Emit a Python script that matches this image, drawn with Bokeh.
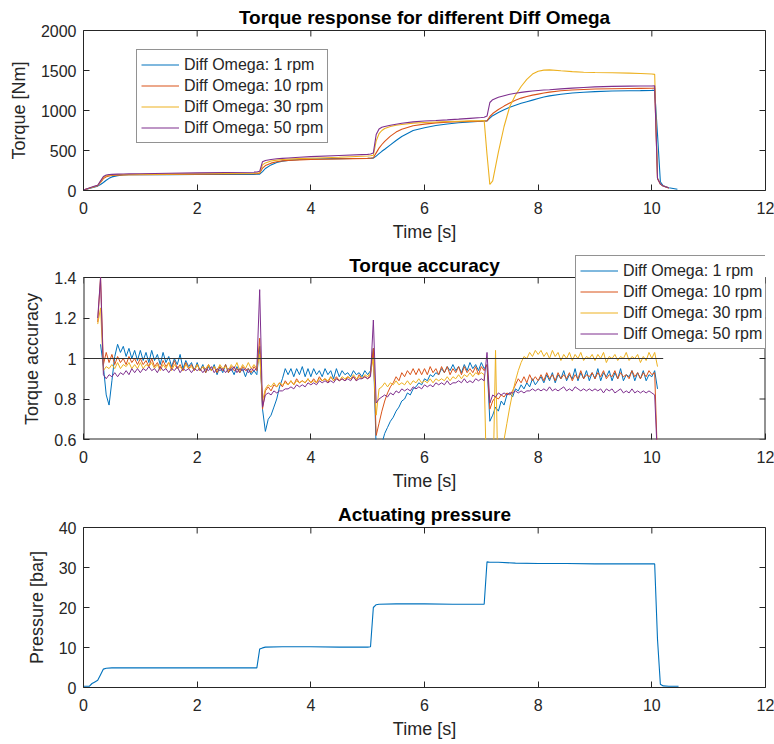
import numpy as np
from bokeh.plotting import figure
from bokeh.layouts import column
from bokeh.models import Range1d, FixedTicker, NumeralTickFormatter
from bokeh.core.properties import value
from bokeh.embed import file_html
from bokeh.resources import INLINE

nan = float("nan")

series_labels = ["Diff Omega: 1 rpm", "Diff Omega: 10 rpm", "Diff Omega: 30 rpm", "Diff Omega: 50 rpm"]
series_colors = ["#0072BD", "#D95319", "#EDB120", "#7E2F8E"]

x_ticks = [0, 2, 4, 6, 8, 10, 12]
torque_ticks = [0, 500, 1000, 1500, 2000]
accuracy_ticks = [0.6, 0.8, 1.0, 1.2, 1.4]
pressure_ticks = [0, 10, 20, 30, 40]

# ---------------- Torque response ----------------
torque_time = [0.0, 0.1, 0.2, 0.25, 0.3, 0.35, 0.4, 0.45, 0.5, 0.6, 0.7, 0.8,
               1.0, 1.5, 2.0, 2.5, 3.0, 3.05,
               3.1, 3.15, 3.2, 3.3, 3.4, 3.5, 3.6, 3.8, 4.0, 4.5, 5.0, 5.05,
               5.1, 5.15, 5.2, 5.25, 5.3, 5.4, 5.5, 5.6, 5.8, 6.0, 6.2, 6.4, 6.6, 6.8, 7.0, 7.05,
               7.1, 7.15, 7.2, 7.3, 7.4, 7.5, 7.6, 7.7, 7.8, 7.9, 8.0, 8.1, 8.2, 8.4, 8.6, 8.8, 9.0, 9.3, 9.6, 9.8, 10.0, 10.05,
               10.1, 10.15, 10.2, 10.3, 10.4, 10.45]

torque_1rpm = [5, 25, 45, 55, 75, 100, 128, 152, 170, 186, 193, 196,
               198, 199, 200, 201, 202, 203,
               205, 235, 275, 320, 350, 367, 377, 388, 393, 399, 403, 404,
               405, 430, 460, 490, 515, 570, 625, 675, 750, 785, 812, 832, 847, 858, 866, 868,
               870, 905, 935, 975, 1010, 1040, 1065, 1090, 1110, 1130, 1150, 1168, 1183, 1203, 1218, 1228, 1236, 1243, 1247, 1249, 1252, 1254,
               700, 110, 60, 35, 22, 15]
torque_10rpm = [5, 28, 50, 60, 100, 148, 172, 182, 188, 192, 194, 196,
                198, 201, 204, 207, 210, 211,
                215, 280, 312, 342, 360, 370, 376, 383, 388, 395, 402, 404,
                410, 470, 530, 575, 615, 680, 730, 765, 810, 830, 845, 855, 860, 864, 866, 868,
                870, 925, 962, 1012, 1055, 1095, 1128, 1155, 1175, 1192, 1205, 1218, 1230, 1246, 1256, 1263, 1268, 1272, 1275, 1277, 1279, 1280,
                150, 80, 55, 30, nan, nan]
torque_30rpm = [5, 28, 50, 62, 110, 165, 183, 190, 193, 196, 198, 199,
                201, 205, 209, 213, 217, 218,
                222, 320, 345, 368, 380, 387, 392, 398, 403, 416, 432, 434,
                440, 620, 710, 750, 775, 800, 815, 825, 842, 850, 856, 862, 866, 870, 873, 875,
                450, 75, 120, 480, 800, 1050, 1190, 1300, 1390, 1455, 1490, 1505, 1508, 1496, 1486, 1479, 1475, 1471, 1467, 1462, 1456, 1452,
                150, 80, 55, 30, nan, nan]
torque_50rpm = [5, 30, 55, 65, 120, 175, 193, 199, 202, 205, 207, 208,
                210, 215, 220, 225, 230, 232,
                240, 360, 375, 388, 396, 402, 407, 416, 423, 438, 452, 456,
                470, 700, 770, 790, 800, 815, 828, 840, 858, 868, 875, 883, 892, 902, 912, 915,
                930, 1100, 1135, 1165, 1185, 1203, 1216, 1227, 1236, 1244, 1250, 1256, 1260, 1270, 1280, 1288, 1295, 1302, 1305, 1306, 1307, 1308,
                150, 80, 55, 30, nan, nan]

# ---------------- Torque accuracy (sampled every 0.05 s from 0.25 s to 10.10 s) ----------------
accuracy_time = np.round(np.arange(0.25, 10.1001, 0.05), 2)

accuracy_1rpm = (
    [nan, 1.07, 0.96, 0.82, 0.77, 0.89, 1.01, 1.07, 1.03, 1.06, 1.01, 1.05, 1.00, 1.04, 0.99]
    + [1.04, 0.99, 1.03, 0.98, 1.04, 0.99, 1.02, 0.97, 1.03, 0.98, 1.01, 0.96, 1.00, 0.97, 1.02, 0.95, 0.99, 0.96, 0.98, 0.94]
    + [0.98, 0.94, 0.97, 0.93, 0.96, 0.94, 0.97, 0.92, 0.96, 0.93, 0.97, 0.93, 0.95, 0.92, 0.96, 0.93, 0.95, 0.91, 0.95, 0.92]
    + [0.94, 0.92, 1.06, 0.75, 0.64, 0.70, 0.72, 0.76, 0.80, 0.86, 0.90, 0.95, 0.92, 0.95, 0.91, 0.95, 0.92, 0.96, 0.91, 0.95]
    + [0.91, 0.95, 0.92, 0.94, 0.91, 0.95, 0.92, 0.94, 0.90, 0.95, 0.91, 0.94, 0.92, 0.93, 0.91, 0.94, 0.92, 0.93, 0.91, 0.94]
    + [0.92, 0.94, 1.05, 0.55, 0.50, 0.58, 0.63, 0.66, 0.69, 0.71, 0.74, 0.76, 0.79, 0.80, 0.83, 0.82, 0.85, 0.86, 0.88, 0.87]
    + [0.90, 0.89, 0.92, 0.91, 0.93, 0.92, 0.95, 0.93, 0.96, 0.94, 0.97, 0.94, 0.96, 0.93, 0.97, 0.94, 0.98, 0.95, 0.97, 0.94]
    + [0.98, 0.95, 0.97, 0.69, 0.72, 0.76, 0.74, 0.79, 0.77, 0.82, 0.83, 0.81, 0.85, 0.84, 0.87, 0.85, 0.88, 0.86, 0.90, 0.87]
    + [0.89, 0.91, 0.88, 0.92, 0.89, 0.93, 0.88, 0.92, 0.90, 0.94, 0.89, 0.92, 0.90, 0.95, 0.89, 0.93, 0.90, 0.94, 0.89, 0.93]
    + [0.90, 0.95, 0.89, 0.93, 0.91, 0.94, 0.89, 0.93, 0.90, 0.95, 0.89, 0.92, 0.91, 0.94, 0.89, 0.93, 0.90, 0.94, 0.89, 0.92]
    + [0.91, 0.94, 0.85]
)
accuracy_10rpm = (
    [1.18, 1.42, 0.97, 1.03, 0.98, 1.02, 0.97, 1.01, 0.98, 1.00, 0.97, 1.01, 0.98, 1.00, 0.97]
    + [1.00, 0.97, 0.99, 0.96, 1.00, 0.96, 0.98, 0.95, 0.99, 0.96, 0.98, 0.95, 0.99, 0.95, 0.97, 0.94, 0.98, 0.95, 0.97, 0.94]
    + [0.97, 0.94, 0.96, 0.93, 0.97, 0.94, 0.96, 0.93, 0.96, 0.94, 0.97, 0.93, 0.96, 0.94, 0.95, 0.93, 0.96, 0.94, 0.95, 0.93]
    + [0.96, 0.94, 1.10, 0.75, 0.84, 0.86, 0.84, 0.87, 0.86, 0.88, 0.86, 0.89, 0.87, 0.89, 0.87, 0.90, 0.88, 0.89, 0.88, 0.90]
    + [0.88, 0.90, 0.88, 0.91, 0.89, 0.90, 0.88, 0.91, 0.89, 0.91, 0.89, 0.90, 0.89, 0.91, 0.90, 0.91, 0.89, 0.92, 0.90, 0.91]
    + [0.90, 0.92, 1.05, 0.62, 0.68, 0.74, 0.79, 0.83, 0.86, 0.88, 0.91, 0.89, 0.93, 0.91, 0.94, 0.92, 0.95, 0.92, 0.95, 0.92]
    + [0.95, 0.92, 0.96, 0.93, 0.95, 0.92, 0.96, 0.93, 0.96, 0.92, 0.95, 0.93, 0.96, 0.92, 0.96, 0.93, 0.95, 0.93, 0.96, 0.92]
    + [0.96, 0.94, 0.97, 0.75, 0.79, 0.81, 0.80, 0.82, 0.81, 0.83, 0.82, 0.84, 0.87, 0.90, 0.88, 0.91, 0.88, 0.92, 0.89, 0.91]
    + [0.89, 0.92, 0.89, 0.93, 0.90, 0.92, 0.89, 0.93, 0.90, 0.92, 0.90, 0.93, 0.89, 0.92, 0.90, 0.94, 0.90, 0.92, 0.91, 0.93]
    + [0.90, 0.93, 0.91, 0.94, 0.90, 0.92, 0.91, 0.94, 0.90, 0.93, 0.91, 0.92, 0.90, 0.94, 0.91, 0.93, 0.90, 0.93, 0.91, 0.94]
    + [0.92, 0.93, 0.50]
)
accuracy_30rpm = (
    [1.17, 1.25, 0.94, 0.96, 0.95, 0.97, 0.95, 0.98, 0.95, 0.97, 0.96, 0.98, 0.95, 0.97, 0.95]
    + [0.98, 0.95, 0.97, 0.96, 0.98, 0.95, 0.97, 0.94, 0.97, 0.95, 0.98, 0.94, 0.97, 0.95, 0.96, 0.94, 0.97, 0.95, 0.96, 0.94]
    + [0.97, 0.94, 0.96, 0.95, 0.97, 0.94, 0.96, 0.94, 0.97, 0.95, 0.96, 0.94, 0.97, 0.95, 0.98, 0.94, 0.97, 0.95, 0.98, 0.95]
    + [0.97, 0.95, 1.02, 0.79, 0.85, 0.87, 0.86, 0.88, 0.86, 0.88, 0.87, 0.88, 0.87, 0.89, 0.87, 0.89, 0.88, 0.89, 0.88, 0.90]
    + [0.88, 0.89, 0.88, 0.90, 0.89, 0.90, 0.89, 0.91, 0.89, 0.90, 0.89, 0.91, 0.90, 0.91, 0.90, 0.92, 0.90, 0.91, 0.90, 0.92]
    + [0.91, 0.93, 1.00, 0.72, 0.85, 0.86, 0.88, 0.86, 0.88, 0.87, 0.89, 0.87, 0.88, 0.87, 0.89, 0.87, 0.89, 0.88, 0.90, 0.88]
    + [0.89, 0.88, 0.90, 0.88, 0.90, 0.89, 0.90, 0.89, 0.91, 0.89, 0.91, 0.90, 0.92, 0.90, 0.92, 0.91, 0.93, 0.91, 0.93, 0.92]
    + [0.93, 0.92, 0.30, 0.10, 0.30, 1.04, 0.30, 0.45, 0.60, 0.68, 0.76, 0.83, 0.89, 0.94, 0.98, 1.01, 1.00, 1.03, 1.01, 1.04]
    + [1.02, 1.04, 1.01, 1.03, 1.00, 1.04, 1.01, 1.03, 0.99, 1.02, 1.00, 1.03, 0.99, 1.02, 1.00, 1.03, 0.99, 1.01, 1.00, 1.02]
    + [0.99, 1.02, 1.00, 1.03, 0.98, 1.01, 1.00, 1.02, 0.99, 1.01, 1.00, 1.03, 0.99, 1.01, 1.00, 1.02, 0.98, 1.01, 0.99, 1.03]
    + [1.00, 1.03, 0.96]
)
accuracy_50rpm = (
    [1.20, 1.45, 0.92, 0.90, 0.92, 0.91, 0.93, 0.91, 0.93, 0.92, 0.94, 0.92, 0.95, 0.93, 0.95]
    + [0.93, 0.95, 0.94, 0.96, 0.94, 0.95, 0.93, 0.96, 0.94, 0.95, 0.93, 0.95, 0.94, 0.96, 0.93, 0.95, 0.94, 0.95, 0.93, 0.95]
    + [0.94, 0.95, 0.93, 0.95, 0.94, 0.96, 0.93, 0.95, 0.94, 0.95, 0.93, 0.95, 0.94, 0.96, 0.93, 0.95, 0.94, 0.95, 0.93, 0.95]
    + [0.94, 0.95, 1.34, 0.76, 0.82, 0.83, 0.82, 0.84, 0.83, 0.84, 0.84, 0.85, 0.85, 0.86, 0.85, 0.87, 0.86, 0.87, 0.86, 0.88]
    + [0.87, 0.88, 0.87, 0.89, 0.88, 0.89, 0.88, 0.89, 0.88, 0.90, 0.89, 0.90, 0.89, 0.90, 0.89, 0.91, 0.89, 0.90, 0.90, 0.91]
    + [0.90, 0.91, 1.19, 0.78, 0.80, 0.81, 0.82, 0.81, 0.83, 0.82, 0.84, 0.83, 0.85, 0.84, 0.85, 0.84, 0.86, 0.85, 0.86, 0.85]
    + [0.87, 0.86, 0.87, 0.86, 0.88, 0.87, 0.88, 0.87, 0.89, 0.87, 0.88, 0.88, 0.89, 0.88, 0.90, 0.88, 0.89, 0.88, 0.90, 0.89]
    + [0.90, 0.89, 1.03, 0.78, 0.82, 0.81, 0.83, 0.82, 0.83, 0.82, 0.83, 0.83, 0.84, 0.83, 0.84, 0.83, 0.84, 0.84, 0.85, 0.84]
    + [0.85, 0.84, 0.85, 0.84, 0.86, 0.84, 0.85, 0.84, 0.85, 0.86, 0.84, 0.85, 0.84, 0.86, 0.85, 0.84, 0.85, 0.84, 0.85, 0.84]
    + [0.85, 0.84, 0.85, 0.83, 0.85, 0.84, 0.85, 0.83, 0.84, 0.85, 0.83, 0.84, 0.83, 0.85, 0.83, 0.84, 0.83, 0.84, 0.83, 0.84]
    + [0.83, 0.82, 0.50]
)

reference_time = [0.0, 10.2]
reference_accuracy = [1.0, 1.0]

# ---------------- Actuating pressure ----------------
pressure_time = [0.0, 0.1, 0.15, 0.2, 0.25, 0.3, 0.35, 0.4, 0.5, 1.0, 1.5, 2.0, 2.5, 3.0, 3.05,
                 3.1, 3.15, 3.2, 3.5, 4.0, 4.5, 5.0, 5.05,
                 5.1, 5.15, 5.2, 5.5, 6.0, 6.5, 7.0, 7.05,
                 7.1, 7.15, 7.3, 7.6, 8.0, 8.5, 9.0, 9.5, 10.0, 10.05,
                 10.1, 10.15, 10.2, 10.3, 10.47]
pressure_bar = [0.3, 0.3, 1.0, 1.4, 1.8, 3.2, 4.6, 4.8, 4.9, 4.9, 4.9, 4.9, 4.9, 4.9, 4.9,
                9.6, 9.9, 10.1, 10.2, 10.2, 10.1, 10.1, 10.2,
                20.0, 20.7, 20.8, 20.9, 20.9, 20.8, 20.8, 20.8,
                31.4, 31.3, 31.3, 31.1, 31.0, 31.0, 30.9, 30.9, 30.9, 30.9,
                12.0, 0.8, 0.4, 0.3, 0.3]

FONT = "Liberation Sans"
AX = "#262626"
X_MIN, X_MAX = 0, 12
FRAME_W = 682
TICK_PX = 6


def make_fig(title, height, top, bottom, y_lo, y_hi, y_ticks, y_label, fmt, box_top=None):
    """box_top: data value where the visible axes box ends (if the frame is taller)."""
    p = figure(width=774, height=height, x_range=Range1d(X_MIN, X_MAX), y_range=Range1d(y_lo, y_hi),
               min_border_left=83, min_border_right=9, min_border_top=top, min_border_bottom=bottom,
               output_backend="svg", toolbar_location=None, title=title)
    if title is not None:
        p.title.align = "center"
        p.title.text_font = FONT
        p.title.text_font_size = "19px"
        p.title.text_font_style = "bold"
        p.title.text_color = "black"
        p.title.standoff = 6
    p.xgrid.visible = False
    p.ygrid.visible = False
    p.background_fill_color = "white"
    p.border_fill_color = "white"

    p.xaxis.ticker = FixedTicker(ticks=x_ticks)
    p.yaxis.ticker = FixedTicker(ticks=y_ticks)
    p.yaxis.formatter = NumeralTickFormatter(format=fmt)
    p.xaxis.axis_label = "Time [s]"
    p.yaxis.axis_label = y_label
    for ax in (p.xaxis[0], p.yaxis[0]):
        ax.axis_line_color = None
        ax.major_tick_in = TICK_PX
        ax.major_tick_out = 0
        ax.major_tick_line_color = AX
        ax.minor_tick_line_color = None
        ax.major_label_text_font = FONT
        ax.major_label_text_font_size = "16px"
        ax.major_label_text_color = AX
        ax.axis_label_text_font = FONT
        ax.axis_label_text_font_size = "18px"
        ax.axis_label_text_font_style = "normal"
        ax.axis_label_text_color = AX
    p.xaxis.major_label_standoff = 11
    p.xaxis.axis_label_standoff = 5
    p.yaxis.major_label_standoff = 7
    p.yaxis.axis_label_standoff = 9

    frame_h = height - top - bottom
    y_top = y_hi if box_top is None else box_top
    tick_dx = (X_MAX - X_MIN) * TICK_PX / FRAME_W
    tick_dy = (y_hi - y_lo) * TICK_PX / frame_h
    # inward ticks on the top and right sides of the box
    p.segment(x0=x_ticks, y0=[y_top] * len(x_ticks), x1=x_ticks, y1=[y_top - tick_dy] * len(x_ticks),
              line_color=AX, line_width=1)
    p.segment(x0=[X_MAX] * len(y_ticks), y0=y_ticks, x1=[X_MAX - tick_dx] * len(y_ticks), y1=y_ticks,
              line_color=AX, line_width=1)
    if box_top is None:
        p.outline_line_color = AX
        p.outline_line_width = 1
        p.outline_line_alpha = 1
    else:
        p.outline_line_color = None
        # box: top edge inside the frame, other edges on the frame border
        p.segment(x0=[X_MIN], y0=[box_top], x1=[X_MAX], y1=[box_top], line_color=AX, line_width=1)
        p.segment(x0=[X_MIN, X_MAX, X_MIN], y0=[y_lo, y_lo, y_lo], x1=[X_MIN, X_MAX, X_MAX],
                  y1=[box_top, box_top, y_lo], line_color=AX, line_width=2)
    return p


def style_legend(p, loc):
    lg = p.legend[0]
    lg.location = loc
    lg.label_text_font = FONT
    lg.label_text_font_size = "16px"
    lg.label_text_color = AX
    lg.glyph_width = 38
    lg.glyph_height = 21
    lg.label_height = 21
    lg.label_standoff = 5
    lg.spacing = 0
    lg.padding = 4
    lg.margin = 0
    lg.border_line_color = AX
    lg.border_line_width = 1
    lg.background_fill_alpha = 1


# Figure 1
p1 = make_fig("Torque response for different Diff Omega", 250, 30, 60,
              0, 2000, torque_ticks, "Torque [Nm]", "0")
for vals, lab, col in zip([torque_1rpm, torque_10rpm, torque_30rpm, torque_50rpm], series_labels, series_colors):
    p1.line(torque_time, vals, line_color=col, line_width=1.1, legend_label=lab)
style_legend(p1, (53, 47))

# Figure 2 (frame extended upward so that the legend may rise above the axes box)
acc_lo, acc_hi = 0.6, 1.4
box_px = 162
top2, bottom2, height2 = 3, 58, 247
frame2_h = height2 - top2 - bottom2
acc_frame_hi = acc_lo + (acc_hi - acc_lo) * frame2_h / box_px
p2 = make_fig(None, height2, top2, bottom2, acc_lo, acc_frame_hi, accuracy_ticks,
              "Torque accuracy" + "\u00a0" * 5, "0.[0]", box_top=acc_hi)
for vals, lab, col in zip([accuracy_1rpm, accuracy_10rpm, accuracy_30rpm, accuracy_50rpm], series_labels, series_colors):
    shown = np.minimum(np.array(vals, dtype=float), acc_hi)
    p2.line(accuracy_time, shown, line_color=col, line_width=1.0, legend_label=lab)
p2.line(reference_time, reference_accuracy, line_color="#333333", line_width=1.2)
title_y = acc_hi + (acc_hi - acc_lo) * 12 / box_px
p2.text(x=[(X_MIN + X_MAX) / 2], y=[title_y], text=["Torque accuracy"], text_align="center",
        text_baseline="middle", text_font=value(FONT), text_font_style="bold",
        text_font_size="19px", text_color="black")
style_legend(p2, (492, 90))

# Figure 3
p3 = make_fig("Actuating pressure", 247, 30, 57,
              0, 40, pressure_ticks, "Pressure [bar]", "0")
p3.line(pressure_time, pressure_bar, line_color=series_colors[0], line_width=1.1)

layout = column(p1, p2, p3, spacing=0)
open("out.html", "w").write(file_html(layout, INLINE))
